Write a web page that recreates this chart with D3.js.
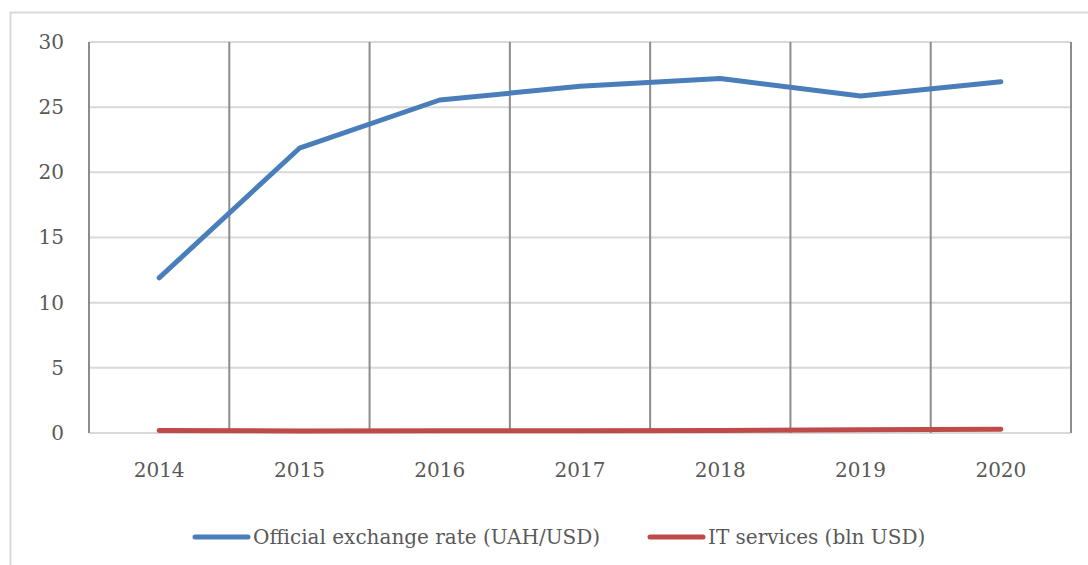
<!DOCTYPE html>
<html>
<head>
<meta charset="utf-8">
<script src="https://cdn.jsdelivr.net/npm/d3@7"></script>
<style>
  body { margin: 0; background: #fff; }
  text { font-family: "DejaVu Serif", serif; fill: #595959; }
</style>
</head>
<body>
<div id="chart"></div>
<script>
const years = ["2014", "2015", "2016", "2017", "2018", "2019", "2020"];
const exchangeRate = [11.9, 21.85, 25.55, 26.6, 27.2, 25.85, 26.95];
const itServices = [0.2, 0.15, 0.17, 0.18, 0.2, 0.24, 0.28];
const yTicks = [0, 5, 10, 15, 20, 25, 30];
const seriesNames = ["Official exchange rate (UAH/USD)", "IT services (bln USD)"];

const W = 1088, H = 565;
const margin = { top: 42, right: 17, bottom: 132, left: 89 },
      width = W - margin.left - margin.right,
      height = H - margin.top - margin.bottom;

const svg = d3.select("#chart")
    .append("svg")
    .attr("width", W)
    .attr("height", H);

// chart frame
svg.append("rect")
    .attr("x", 10.5).attr("y", 12.5)
    .attr("width", W + 20).attr("height", H + 20)
    .attr("fill", "none")
    .attr("stroke", "#d9d9d9")
    .attr("stroke-width", 2);

const g = svg.append("g")
    .attr("transform", `translate(${margin.left},${margin.top})`);

const x = d3.scaleBand().domain(years).range([0, width]).padding(0);
const y = d3.scaleLinear().domain([0, 30]).range([height, 0]);

// horizontal grid
g.selectAll(".hgrid")
    .data(yTicks)
    .enter()
    .append("line")
    .attr("x1", 0).attr("x2", width)
    .attr("y1", d => y(d)).attr("y2", d => y(d))
    .attr("stroke", "#d9d9d9")
    .attr("stroke-width", 2);

// vertical grid at category boundaries
const bounds = years.map(d => x(d)).concat([width]);
g.selectAll(".vgrid")
    .data(bounds)
    .enter()
    .append("line")
    .attr("x1", d => d).attr("x2", d => d)
    .attr("y1", 0).attr("y2", height)
    .attr("stroke", "#8c8c8c")
    .attr("stroke-width", 2);

// y labels
g.append("g")
    .call(d3.axisLeft(y).tickValues(yTicks).tickSize(0).tickPadding(25))
    .call(a => a.select(".domain").remove())
    .selectAll("text")
    .style("font-size", "20px")
    .attr("fill", "#595959");

// x labels
g.append("g")
    .attr("transform", `translate(0,${height})`)
    .call(d3.axisBottom(x).tickSize(0).tickPadding(30))
    .call(a => a.select(".domain").remove())
    .selectAll("text")
    .style("font-size", "20px")
    .attr("fill", "#595959");

const colors = ["#4a7ebb", "#be4b48"];
const line = d3.line()
    .x((d, i) => x(years[i]) + x.bandwidth() / 2)
    .y(d => y(d));

[exchangeRate, itServices].forEach((s, k) => {
    g.append("path")
        .datum(s)
        .attr("d", line)
        .attr("fill", "none")
        .attr("stroke", colors[k])
        .attr("stroke-width", 5)
        .attr("stroke-linecap", "round")
        .attr("stroke-linejoin", "round");
});

// legend
const legendX = [195, 650];
const legend = svg.selectAll(".legend")
    .data(seriesNames)
    .enter()
    .append("g")
    .attr("transform", (d, i) => `translate(${legendX[i]},537)`);

legend.append("line")
    .attr("x1", 0).attr("x2", 53)
    .attr("stroke", (d, i) => colors[i])
    .attr("stroke-width", 5)
    .attr("stroke-linecap", "round");

legend.append("text")
    .attr("x", 58)
    .attr("dy", "0.35em")
    .style("font-size", "20px")
    .text(d => d);
</script>
</body>
</html>
